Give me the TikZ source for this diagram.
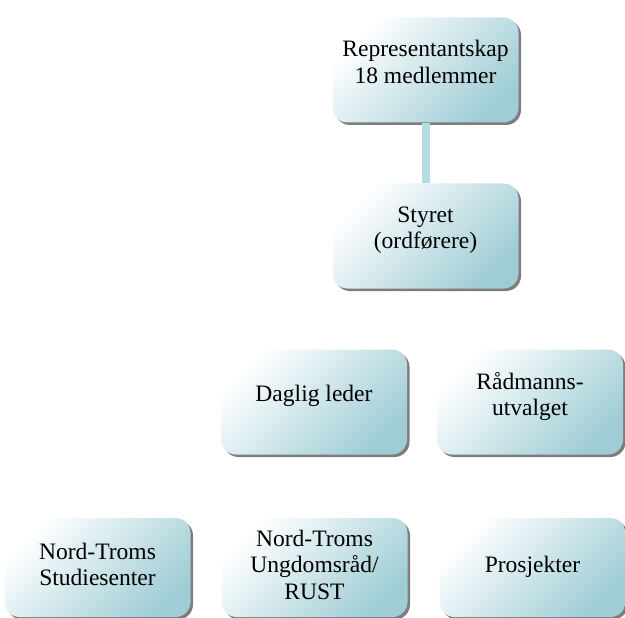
\documentclass[tikz,border=0pt]{standalone}
\usepackage{fontspec}
\setmainfont{Liberation Serif}
\usepackage{tikz}
\usetikzlibrary{shadows}
\definecolor{boxteal}{RGB}{160,205,213}
\definecolor{linkblue}{RGB}{182,219,231}
\definecolor{shadowgray}{RGB}{125,125,125}

\begin{document}
\begin{tikzpicture}
  [
    Box/.style={rectangle, rounded corners=3mm, top color=white, middle color=boxteal!22!white,
      bottom color=boxteal, shading angle=45, minimum width=3.72cm, minimum height=2.1cm,
      align=center, text depth=0.33cm, font=\fontsize{13.4}{15}\selectfont,
      general shadow={fill=shadowgray, shadow xshift=0.05cm, shadow yshift=-0.05cm}},
    Low/.style={Box, minimum height=1.98cm, text depth=0.12cm},
    Link/.style={draw=linkblue, line width=0.16cm}
  ]
  \useasboundingbox (0, 0) rectangle (12.5, -12.36);
  % Nodes
  \node[Box] (rep) at(8.51, -1.40) {Representantskap\\18 medlemmer};
  \node[Box] (styret) at(8.51, -4.72) {Styret\\(ordførere)};
  \node[Box] (daglig) at(6.28, -8.04) {Daglig leder};
  \node[Box] (radmann) at(10.60, -8.04) {Rådmanns-\\utvalget};
  \node[Low] (studie) at(1.95, -11.35) {Nord-Troms\\Studiesenter};
  \node[Low] (ungdom) at(6.29, -11.35) {Nord-Troms\\Ungdomsråd/\\RUST};
  \node[Low] (prosj) at(10.65, -11.35) {Prosjekter};
  % Lines
  \path [Link] (rep) -- (styret);
\end{tikzpicture}
\end{document}
